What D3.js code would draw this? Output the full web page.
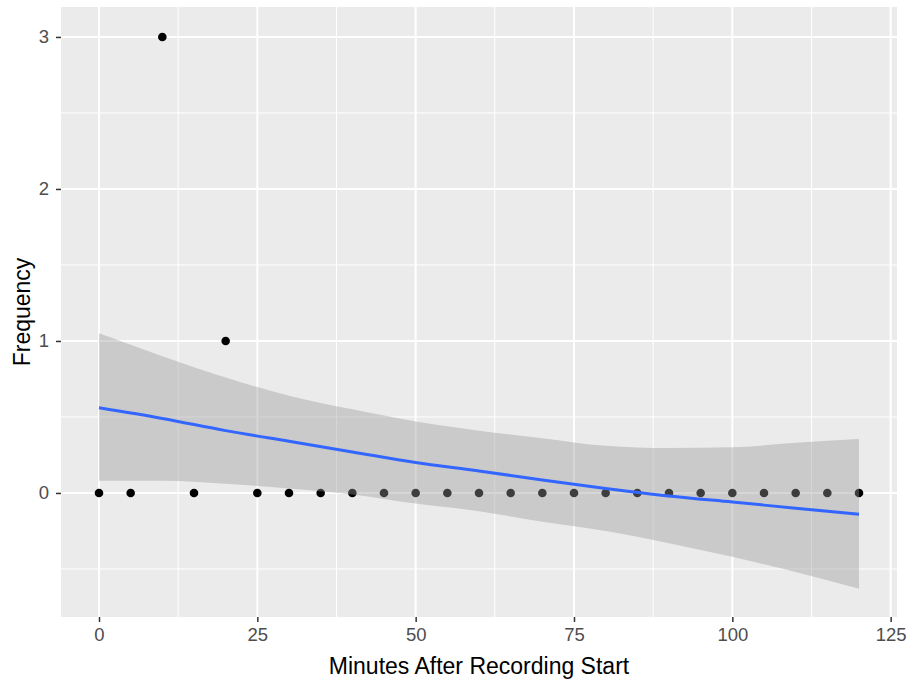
<!DOCTYPE html>
<html>
<head>
<meta charset="utf-8">
<script src="https://cdn.jsdelivr.net/npm/d3@7"></script>
<style>
  body { margin: 0; background: #fff; }
  text { font-family: Arial, "Liberation Sans", sans-serif; }
</style>
</head>
<body>
<script>
const width = 911
const height = 686

// observed counts, every 5 minutes
const minutes = d3.range(0, 121, 5)
const frequency = [0, 0, 3, 0, 1, 0, 0, 0, 0, 0, 0, 0, 0, 0, 0, 0, 0, 0, 0, 0, 0, 0, 0, 0, 0]

// loess fit and confidence band
const fitX = [0, 10, 20, 30, 40, 50, 60, 70, 80, 90, 100, 110, 120]
const fitY = [0.56, 0.49, 0.41, 0.34, 0.27, 0.20, 0.145, 0.085, 0.03, -0.02, -0.06, -0.10, -0.14]
const fitHi = [1.05, 0.90, 0.76, 0.64, 0.55, 0.47, 0.41, 0.36, 0.31, 0.295, 0.30, 0.33, 0.355]
const fitLo = [0.08, 0.08, 0.06, 0.03, -0.01, -0.07, -0.12, -0.19, -0.25, -0.33, -0.42, -0.52, -0.63]

const xTicks = [0, 25, 50, 75, 100, 125]
const xMinor = [12.5, 37.5, 62.5, 87.5, 112.5]
const yTicks = [0, 1, 2, 3]
const yMinor = [-0.5, 0.5, 1.5, 2.5]

const panel = { left: 61, right: 897, top: 7, bottom: 617 }

const x = d3.scaleLinear().domain([-6, 126]).range([panel.left, panel.right])
const y = d3.scaleLinear().domain([-0.816, 3.197]).range([panel.bottom, panel.top])

const svg = d3.select('body').append('svg')
  .attr('width', width)
  .attr('height', height)

svg.append('rect')
  .attr('x', panel.left)
  .attr('y', panel.top)
  .attr('width', panel.right - panel.left)
  .attr('height', panel.bottom - panel.top)
  .attr('fill', '#EBEBEB')

const grid = svg.append('g')
grid.selectAll('.vmin').data(xMinor).enter().append('line')
  .attr('x1', d => x(d)).attr('x2', d => x(d))
  .attr('y1', panel.top).attr('y2', panel.bottom)
  .attr('stroke', '#fff').attr('stroke-width', 1)
grid.selectAll('.hmin').data(yMinor).enter().append('line')
  .attr('y1', d => y(d)).attr('y2', d => y(d))
  .attr('x1', panel.left).attr('x2', panel.right)
  .attr('stroke', '#fff').attr('stroke-width', 1)
grid.selectAll('.vmaj').data(xTicks).enter().append('line')
  .attr('x1', d => x(d)).attr('x2', d => x(d))
  .attr('y1', panel.top).attr('y2', panel.bottom)
  .attr('stroke', '#fff').attr('stroke-width', 2)
grid.selectAll('.hmaj').data(yTicks).enter().append('line')
  .attr('y1', d => y(d)).attr('y2', d => y(d))
  .attr('x1', panel.left).attr('x2', panel.right)
  .attr('stroke', '#fff').attr('stroke-width', 2)

// points first, the smooth layer sits over them
svg.append('g').selectAll('circle')
  .data(minutes.map((m, i) => [m, frequency[i]]))
  .enter().append('circle')
  .attr('cx', d => x(d[0]))
  .attr('cy', d => y(d[1]))
  .attr('r', 4.3)
  .attr('fill', '#000')

const band = fitX.map((v, i) => ({ x: v, y: fitY[i], hi: fitHi[i], lo: fitLo[i] }))

svg.append('path')
  .datum(band)
  .attr('d', d3.area().curve(d3.curveMonotoneX)
    .x(d => x(d.x)).y0(d => y(d.lo)).y1(d => y(d.hi)))
  .attr('fill', '#999999')
  .attr('fill-opacity', 0.4)

svg.append('path')
  .datum(band)
  .attr('d', d3.line().curve(d3.curveMonotoneX).x(d => x(d.x)).y(d => y(d.y)))
  .attr('fill', 'none')
  .attr('stroke', '#3366FF')
  .attr('stroke-width', 3)

const xAxis = svg.append('g')
  .attr('transform', `translate(0,${panel.bottom})`)
  .call(d3.axisBottom(x).tickValues(xTicks).tickFormat(d3.format('d')).tickSize(5).tickPadding(6))
const yAxis = svg.append('g')
  .attr('transform', `translate(${panel.left},0)`)
  .call(d3.axisLeft(y).tickValues(yTicks).tickFormat(d3.format('d')).tickSize(5).tickPadding(7))

for (const ax of [xAxis, yAxis]) {
  ax.select('.domain').remove()
  ax.selectAll('.tick line').attr('stroke', '#333333').attr('stroke-width', 1.5)
  ax.selectAll('.tick text')
    .attr('fill', '#4D4D4D')
    .style('font-size', '18.5px')
    .style('font-family', 'Arial, "Liberation Sans", sans-serif')
}

svg.append('text')
  .attr('x', (panel.left + panel.right) / 2)
  .attr('y', 674)
  .attr('text-anchor', 'middle')
  .style('font-size', '23px')
  .attr('fill', '#000')
  .text('Minutes After Recording Start')

svg.append('text')
  .attr('transform', `translate(30,${(panel.top + panel.bottom) / 2}) rotate(-90)`)
  .attr('text-anchor', 'middle')
  .style('font-size', '23px')
  .attr('fill', '#000')
  .text('Frequency')
</script>
</body>
</html>
